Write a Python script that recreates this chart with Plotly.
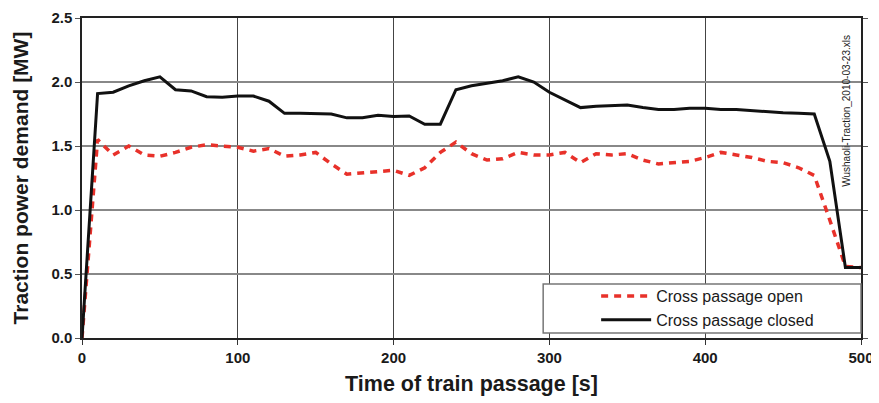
import plotly.graph_objects as go

time_s = [0, 10, 20, 30, 40, 50, 60, 70, 80, 90, 100, 110, 120, 130, 140, 150, 160, 170, 180, 190, 200,
          210, 220, 230, 240, 250, 260, 270, 280, 290, 300, 310, 320, 330, 340, 350, 360, 370, 380, 390, 400,
          410, 420, 430, 440, 450, 460, 470, 480, 490, 500]

cross_open = [0, 1.55, 1.43, 1.50, 1.43, 1.42, 1.45, 1.49, 1.51, 1.50, 1.49, 1.46, 1.48, 1.42, 1.43, 1.45,
              1.36, 1.28, 1.29, 1.30, 1.31, 1.27, 1.33, 1.45, 1.53, 1.44, 1.39, 1.40, 1.45, 1.43, 1.43,
              1.45, 1.37, 1.44, 1.43, 1.44, 1.39, 1.36, 1.37, 1.38, 1.41, 1.45, 1.43, 1.41, 1.38, 1.37,
              1.33, 1.27, 0.92, 0.56, 0.55]

cross_closed = [0, 1.91, 1.92, 1.97, 2.01, 2.04, 1.94, 1.93, 1.885, 1.88, 1.89, 1.89, 1.85, 1.755, 1.755,
                1.755, 1.75, 1.72, 1.72, 1.74, 1.73, 1.735, 1.67, 1.67, 1.94, 1.97, 1.99, 2.01, 2.04, 2.00,
                1.92, 1.86, 1.80, 1.81, 1.815, 1.82, 1.80, 1.785, 1.785, 1.795, 1.795, 1.785, 1.785, 1.775,
                1.77, 1.76, 1.755, 1.75, 1.38, 0.55, 0.55]

x_ticks = [0, 100, 200, 300, 400, 500]
y_ticks = [0.0, 0.5, 1.0, 1.5, 2.0, 2.5]
y_tick_labels = ["0.0", "0.5", "1.0", "1.5", "2.0", "2.5"]

fig = go.Figure()
fig.add_trace(go.Scatter(x=time_s, y=cross_open, mode="lines", name="Cross passage open",
                         line=dict(color="#e8312a", width=3.5, dash="7px,6px")))
fig.add_trace(go.Scatter(x=time_s, y=cross_closed, mode="lines", name="Cross passage closed",
                         line=dict(color="#111111", width=3)))

fig.update_layout(
    width=871, height=395,
    margin=dict(l=74, r=18, t=10, b=65, autoexpand=False),
    paper_bgcolor="white", plot_bgcolor="white",
    font=dict(family="Liberation Sans, Arial, sans-serif", color="#1a1a1a"),
    showlegend=True,
    legend=dict(x=0.66, y=0.184, xanchor="left", yanchor="top", bgcolor="rgba(0,0,0,0)",
                borderwidth=0, font=dict(size=16), itemwidth=50, tracegroupgap=0),
    xaxis=dict(range=[0, 500], tickvals=x_ticks, ticktext=["<b>%d</b>" % v for v in x_ticks],
               ticks="outside", ticklen=5, tickcolor="#333", automargin=False,
               showgrid=True, gridcolor="#444", gridwidth=1, zeroline=False,
               showline=True, linecolor="#222", linewidth=1.5, mirror=True,
               tickfont=dict(size=15, family="Liberation Sans, Arial, sans-serif"),
               title=dict(text="<b>Time of train passage [s]</b>", font=dict(size=21.5), standoff=11)),
    yaxis=dict(range=[0, 2.5], tickvals=y_ticks, ticktext=["<b>%s</b>" % t for t in y_tick_labels],
               ticks="outside", ticklen=5, tickcolor="#555", automargin=False,
               showgrid=True, gridcolor="#888", gridwidth=1.5, zeroline=False,
               showline=True, linecolor="#222", linewidth=1.5, mirror="ticks",
               tickfont=dict(size=15, family="Liberation Sans, Arial, sans-serif"),
               title=dict(text="<b>Traction power demand [MW]</b>", font=dict(size=21), standoff=17)),
)

fig.add_shape(type="rect", xref="paper", yref="paper", x0=0.592, x1=1.0, y0=0.016, y1=0.169,
              fillcolor="white", line=dict(color="#777", width=1.5), layer="above")

fig.add_annotation(text="Wushaoli-Traction_2010-03-23.xls", xref="paper", yref="paper",
                   x=0.982, y=0.71, textangle=-90, showarrow=False,
                   font=dict(size=10, color="#222"), xanchor="center", yanchor="middle")

fig.write_html("out.html")
